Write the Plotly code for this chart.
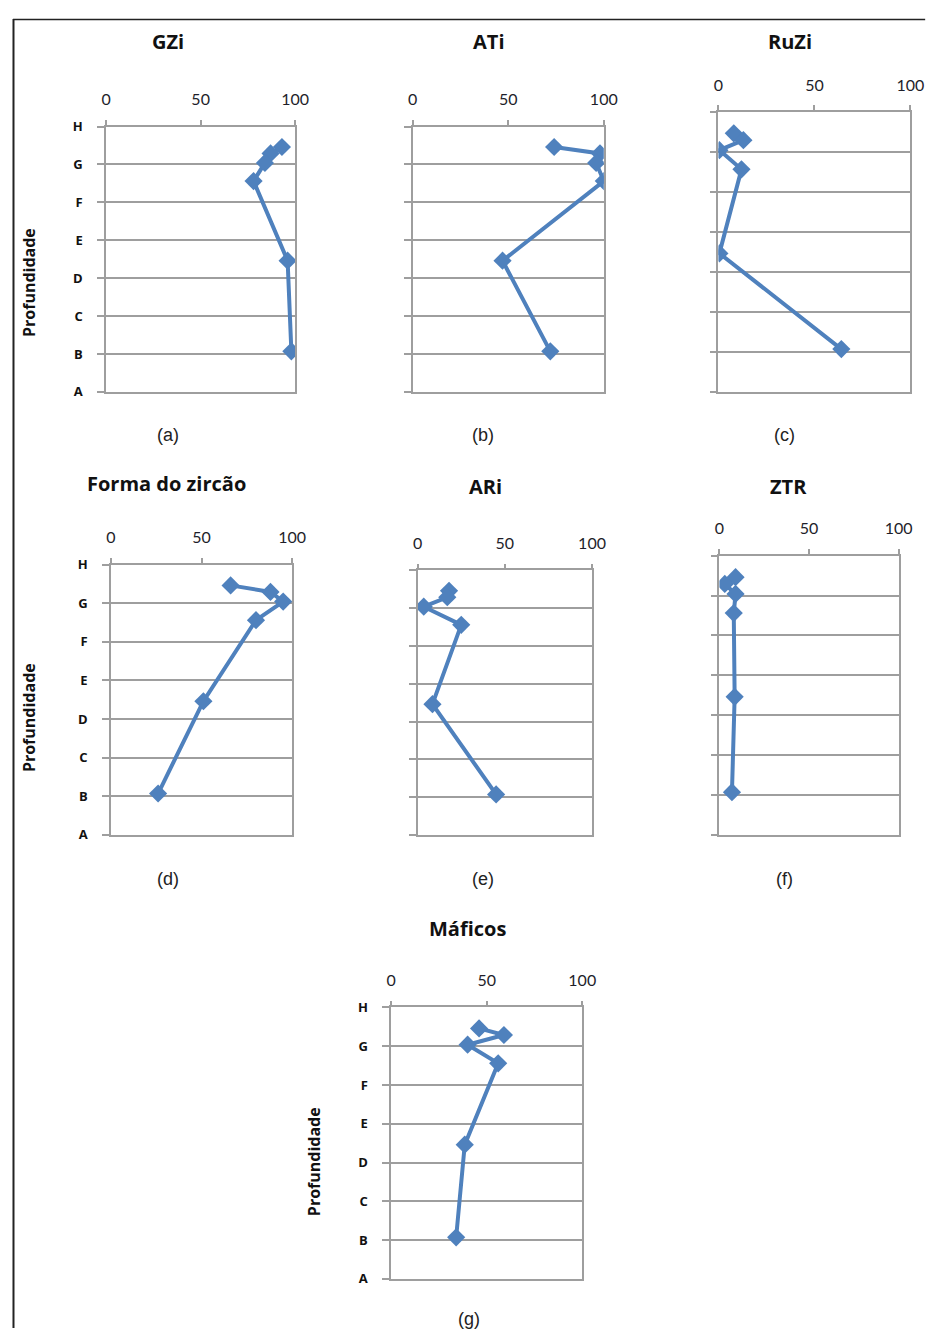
import plotly.graph_objects as go

W, H = 939, 1337
OFF = 8  # page body margin in the browser

# Sample depth positions (A=0 ... H=7)
depth = [6.46, 6.29, 6.04, 5.56, 3.46, 1.07]
depth_labels = ["A", "B", "C", "D", "E", "F", "G", "H"]
x_ticks = [0, 50, 100]

gzi = [93, 87, 84, 78, 96, 98]
ati = [74, 98, 96, 100, 47, 72]
ruzi = [8, 13, 0.5, 12, 0.5, 64]
forma = [66, 88, 95, 80, 51, 26]
ari = [18, 17, 3.5, 25, 8.5, 45]
ztr = [9, 3, 9, 8, 8.5, 7]
maficos = [46, 59, 40, 56, 38.5, 34]

titles = ["GZi", "ATi", "RuZi", "Forma do zircão", "ARi", "ZTR", "Máficos"]
sublabels = ["(a)", "(b)", "(c)", "(d)", "(e)", "(f)", "(g)"]
series = [gzi, ati, ruzi, forma, ari, ztr, maficos]


def fx(p):
    return (p - OFF) / W


def fy(p):
    return 1 - (p - OFF) / H


# panel geometry in page pixels: (x0, x1, y_top, y_bottom)
boxes = [
    (103, 296, 119, 388),
    (416, 611, 119, 388),
    (728, 924, 104, 388),
    (108, 293, 563, 837),
    (421, 599, 569, 837),
    (729, 912, 554, 837),
    (394, 589, 1012, 1287),
]
title_pos = [(166, 33), (493, 33), (801, 33), (165, 481), (490, 484), (800, 484), (472, 932)]
sub_pos = [(166, 432), (488, 432), (795, 432), (166, 882), (488, 882), (795, 882), (473, 1328)]
show_ylab = [True, False, False, True, False, False, True]
prof_pos = {0: (25, 277), 3: (25, 718), 6: (316, 1168)}

BLUE = "#4F81BD"
GRID = "#9E9E9E"
TXT = "#1e1e2a"

fig = go.Figure()
annotations = []
for i, (vals, box) in enumerate(zip(series, boxes)):
    n = "" if i == 0 else str(i + 1)
    x0, x1, yt, yb = box
    fig.add_trace(go.Scatter(
        x=vals, y=depth, mode="lines+markers",
        line=dict(color=BLUE, width=4),
        marker=dict(symbol="diamond", size=14, color=BLUE),
        xaxis="x" + n, yaxis="y" + n, showlegend=False, hoverinfo="skip",
    ))
    fig.layout["xaxis" + n] = dict(
        domain=[fx(x0), fx(x1)], anchor="y" + n, side="top",
        range=[0, 100], tickvals=x_ticks, ticks="outside", ticklen=5,
        tickcolor=GRID, tickwidth=1.5, showgrid=False, zeroline=False,
        showline=True, linecolor=GRID, linewidth=1.5, mirror=True,
        tickfont=dict(family="Lato", size=16, color=TXT),
        ticklabelstandoff=8, fixedrange=True,
    )
    fig.layout["yaxis" + n] = dict(
        domain=[fy(yb), fy(yt)], anchor="x" + n,
        range=[0, 7], tickvals=list(range(8)), ticktext=depth_labels,
        ticks="outside", ticklen=7, tickcolor=GRID, tickwidth=1.5,
        showgrid=True, gridcolor=GRID, gridwidth=1.5, zeroline=False,
        showline=True, linecolor=GRID, linewidth=1.5, mirror=True,
        showticklabels=show_ylab[i],
        tickfont=dict(family="Open Sans", size=13, color="#111111", weight="bold"),
        ticklabelstandoff=12, fixedrange=True,
    )
    tx, ty = title_pos[i]
    annotations.append(dict(
        text="<b>%s</b>" % titles[i], x=fx(tx), y=fy(ty), xref="paper", yref="paper",
        showarrow=False, xanchor="center", yanchor="middle",
        font=dict(family="Open Sans", size=20, color="#111111"),
    ))
    sx, sy = sub_pos[i]
    annotations.append(dict(
        text=sublabels[i], x=fx(sx), y=fy(sy), xref="paper", yref="paper",
        showarrow=False, xanchor="center", yanchor="middle",
        font=dict(family="Liberation Sans", size=18, color="#222222"),
    ))
    if i in prof_pos:
        px, py = prof_pos[i]
        annotations.append(dict(
            text="<b>Profundidade</b>", x=fx(px), y=fy(py), xref="paper", yref="paper",
            showarrow=False, xanchor="center", yanchor="middle", textangle=-90,
            font=dict(family="Open Sans", size=16, color="#111111"),
        ))

shapes = [
    dict(type="line", xref="paper", yref="paper", x0=fx(8), x1=fx(939), y0=fy(10.5), y1=fy(10.5),
         line=dict(color="#222222", width=1.5)),
    dict(type="line", xref="paper", yref="paper", x0=fx(8.5), x1=fx(8.5), y0=fy(1337), y1=fy(10),
         line=dict(color="#222222", width=2)),
]

fig.update_layout(
    width=W, height=H, margin=dict(l=0, r=0, t=0, b=0),
    paper_bgcolor="white", plot_bgcolor="white",
    annotations=annotations, shapes=shapes,
)

fig.write_html("out.html", config={"displayModeBar": False})
